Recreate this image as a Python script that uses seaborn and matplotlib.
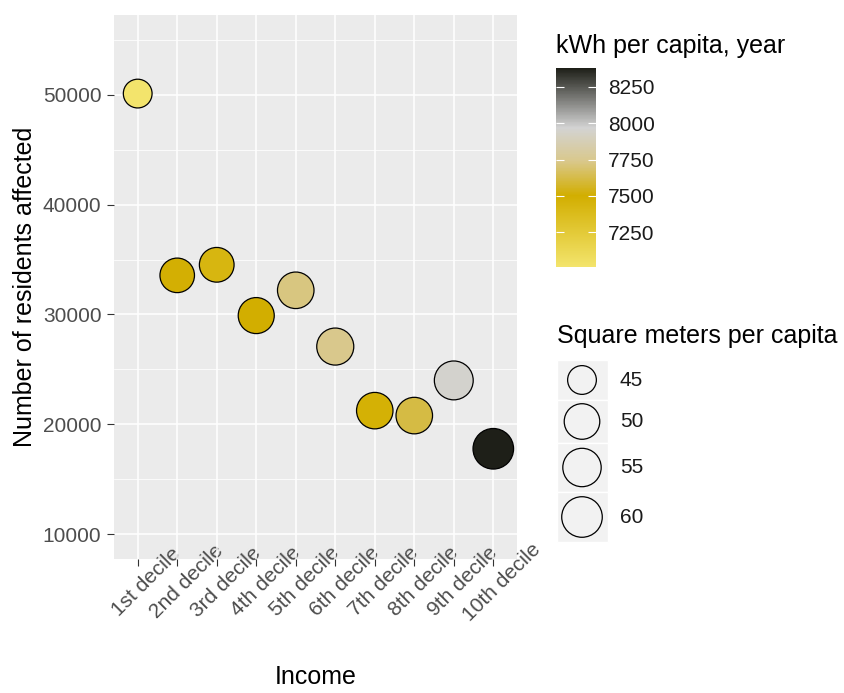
import numpy as np
import pandas as pd
import matplotlib
matplotlib.use("Agg")
import matplotlib.pyplot as plt
import seaborn as sns
from matplotlib.colors import LinearSegmentedColormap, Normalize, FuncNorm
from matplotlib.patches import Rectangle
from matplotlib.transforms import ScaledTranslation

# ---------------- data ----------------
deciles = ["1st decile", "2nd decile", "3rd decile", "4th decile", "5th decile",
           "6th decile", "7th decile", "8th decile", "9th decile", "10th decile"]
residents = [50100, 33560, 34520, 29900, 32200, 27080, 21250, 20800, 24000, 17780]
kwh = [7010, 7490, 7430, 7500, 7720, 7740, 7480, 7620, 7950, 8380]
sqm = [45.0, 48.6, 48.8, 50.7, 51.5, 52.4, 51.4, 51.5, 56.0, 60.0]
kwh_breaks = [7250, 7500, 7750, 8000, 8250]
sqm_breaks = [45, 50, 55, 60]
y_breaks = [10000, 20000, 30000, 40000, 50000]
y_minor = [15000, 25000, 35000, 45000, 55000]

df = pd.DataFrame({"Income": deciles, "Residents": residents,
                   "kWh": kwh, "sqm": sqm})

plt.rcParams['font.family'] = ['Liberation Sans', 'DejaVu Sans']

W, H = 844, 693
fig = plt.figure(figsize=(W / 100, H / 100), dpi=100)
fig.patch.set_facecolor("white")


def fx(px):
    return px / W


def fy(py):
    return 1 - py / H


PL, PR, PT, PB = 114, 517, 15, 559
ax = fig.add_axes([fx(PL), fy(PB), (PR - PL) / W, (PB - PT) / H])

# colour scale
kmin, kmax = min(kwh), max(kwh)
cmap = LinearSegmentedColormap.from_list(
    "kwh", [(0.0, "#F3E46C"), (0.358, "#D2AE00"), (0.533, "#D9C88C"),
            (0.70, "#D3D3D3"), (1.0, "#1E1F18")])

# size scale (ggplot-like area scaling)
smin, smax = min(sqm), max(sqm)
D0, D1 = 20.7, 29.2  # marker diameters in points


def size_fwd(v):
    t = np.clip((np.asarray(v, dtype=float) - smin) / (smax - smin), 0, 1)
    return (D0 + (D1 - D0) * np.sqrt(t)) ** 2


def size_inv(a):
    t = ((np.sqrt(np.asarray(a, dtype=float)) - D0) / (D1 - D0)) ** 2
    return smin + t * (smax - smin)


size_norm = FuncNorm((size_fwd, size_inv), vmin=smin, vmax=smax)

sns.scatterplot(data=df, x="Income", y="Residents", hue="kWh", size="sqm",
                palette=cmap, hue_norm=(kmin, kmax),
                sizes=(D0 ** 2, D1 ** 2), size_norm=size_norm,
                edgecolor="black", linewidth=0.9, legend=False, ax=ax,
                zorder=3)

ax.set_xlim(-0.6, len(deciles) - 0.4)
ax.set_ylim(7750, 57250)
ax.set_yticks(y_breaks)
ax.set_yticklabels([str(v) for v in y_breaks])
ax.set_yticks(y_minor, minor=True)
ax.set_facecolor("#EBEBEB")
for s in ax.spines.values():
    s.set_visible(False)
ax.set_axisbelow(True)
ax.grid(which="major", color="white", lw=1.1)
ax.grid(which="minor", axis="y", color="white", lw=0.55)

ax.tick_params(axis="both", which="major", length=5, width=0.8,
               color="#333333", labelsize=15, labelcolor="#4D4D4D")
ax.tick_params(axis="y", which="major", pad=4.0)
ax.tick_params(axis="x", which="major", pad=11.5)
ax.tick_params(which="minor", length=0)

ax.set_xticks(range(len(deciles)))
ax.set_xticklabels(deciles, rotation=45, ha="center", va="center",
                   rotation_mode="anchor")
off = ScaledTranslation(6.5 / 72, 0, fig.dpi_scale_trans)
for lab in ax.get_xticklabels():
    lab.set_transform(lab.get_transform() + off)

ax.set_xlabel("Income", fontsize=18, color="black")
ax.xaxis.set_label_coords(0.5, (PB - 665) / (PB - PT))
ax.set_ylabel("Number of residents affected", fontsize=18, color="black")
ax.yaxis.label.set_rotation_mode("anchor")
ax.yaxis.label.set_verticalalignment("bottom")
ax.yaxis.set_label_coords((37 - PL) / (PR - PL), 0.5)

# ---------------- colour legend ----------------
fig.text(fx(556), fy(53), "kWh per capita, year", fontsize=18,
         va="baseline", ha="left", color="black")
cax = fig.add_axes([fx(556), fy(267), 40 / W, (267 - 68) / H])
sm = plt.cm.ScalarMappable(norm=Normalize(kmin, kmax), cmap=cmap)
cb = fig.colorbar(sm, cax=cax, ticks=kwh_breaks)
cb.outline.set_visible(False)
cax.minorticks_off()
cax.tick_params(which="major", direction="in", length=5.8, width=0.8,
                color="white", left=True, right=True, labelsize=15,
                labelcolor="#1A1A1A", pad=8.6)

# ---------------- size legend ----------------
fig.text(fx(557), fy(343), "Square meters per capita", fontsize=18,
         va="baseline", ha="left", color="black")
lax = fig.add_axes([fx(540), fy(545), 304 / W, (545 - 350) / H])
lax.set_xlim(540, 844)
lax.set_ylim(545, 350)
lax.axis("off")
tops = [360, 400, 443, 492]
bots = [400, 443, 492, 542]
centers = [(t + b) / 2 for t, b in zip(tops, bots)]
for t, b in zip(tops, bots):
    lax.add_patch(Rectangle((557, t), 51, b - t, facecolor="#F2F2F2",
                            edgecolor="white", lw=1))
lax.scatter([582] * len(sqm_breaks), centers, s=size_fwd(sqm_breaks),
            facecolors="none", edgecolors="black", linewidths=0.9,
            clip_on=False, zorder=3)
for c, v in zip(centers, sqm_breaks):
    lax.text(620, c, str(v), va="center", ha="left", fontsize=15,
             color="#1A1A1A")

fig.savefig("out.png", dpi=100)
